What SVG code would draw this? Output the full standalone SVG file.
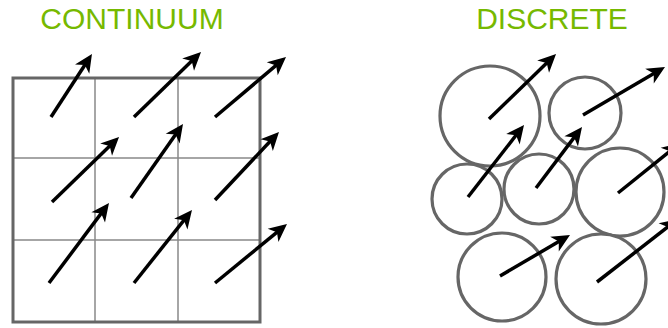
<svg xmlns="http://www.w3.org/2000/svg" width="668" height="328" viewBox="0 0 668 328">
<style>
.title{font-family:"Liberation Sans",Arial,sans-serif;font-size:30px;fill:#76b900;text-anchor:middle}
.outer{fill:none;stroke:#666;stroke-width:3}
.inner{fill:none;stroke:#888;stroke-width:1.5}
.cell{fill:#fff;stroke:#666;stroke-width:3.2}
.arr{fill:none;stroke:#000;stroke-width:3.5;marker-end:url(#ah)}
</style>
<defs>
<marker id="ah" markerUnits="userSpaceOnUse" markerWidth="30" markerHeight="30" viewBox="-15 -15 30 30" refX="0" refY="0" orient="auto" overflow="visible">
<path d="M8,0 L-10,-8.5 L-5,0 L-10,8.5 Z" fill="#000"/>
</marker>
</defs>
<text class="title" x="132" y="29">CONTINUUM</text>
<text class="title" x="552" y="29">DISCRETE</text>
<g id="grid">
<line class="inner" x1="95" y1="78" x2="95" y2="322"/>
<line class="inner" x1="178" y1="78" x2="178" y2="322"/>
<line class="inner" x1="13" y1="158" x2="260" y2="158"/>
<line class="inner" x1="13" y1="240" x2="260" y2="240"/>
<rect class="outer" x="13" y="78" width="247" height="244"/>
</g>
<g id="particles">
<circle id="c1" class="cell" cx="490" cy="116" r="50"/>
<circle id="c2" class="cell" cx="585" cy="113" r="36"/>
<circle id="c3" class="cell" cx="467" cy="199" r="35"/>
<circle id="c4" class="cell" cx="539" cy="189" r="35"/>
<circle id="c5" class="cell" cx="620" cy="192" r="44"/>
<circle id="c6" class="cell" cx="502" cy="277" r="44"/>
<circle id="c7" class="cell" cx="601" cy="279" r="45"/>
</g>
<g id="connectors">
<line class="arr" x1="51" y1="117" x2="87.6" y2="60.7"/>
<line class="arr" x1="134" y1="117" x2="195.3" y2="57.6"/>
<line class="arr" x1="215" y1="117" x2="279.9" y2="62.2"/>
<line class="arr" x1="52" y1="202" x2="113.3" y2="142.6"/>
<line class="arr" x1="131" y1="198" x2="178.4" y2="130.5"/>
<line class="arr" x1="215" y1="200" x2="273.5" y2="137.8"/>
<line class="arr" x1="49" y1="283" x2="104.2" y2="209.4"/>
<line class="arr" x1="134" y1="283" x2="187" y2="216.3"/>
<line class="arr" x1="215" y1="283" x2="280.8" y2="229.1"/>
<line class="arr" x1="489" y1="119" x2="550.3" y2="59.6"/>
<line class="arr" x1="583" y1="115" x2="658.1" y2="71"/>
<line class="arr" x1="468" y1="197" x2="519.1" y2="131.3"/>
<line class="arr" x1="536" y1="188" x2="577.2" y2="133.4"/>
<line class="arr" x1="618" y1="193" x2="673.8" y2="148"/>
<line class="arr" x1="500" y1="276" x2="563.1" y2="239"/>
<line class="arr" x1="597" y1="282" x2="671.7" y2="223.9"/>
</g>
</svg>
